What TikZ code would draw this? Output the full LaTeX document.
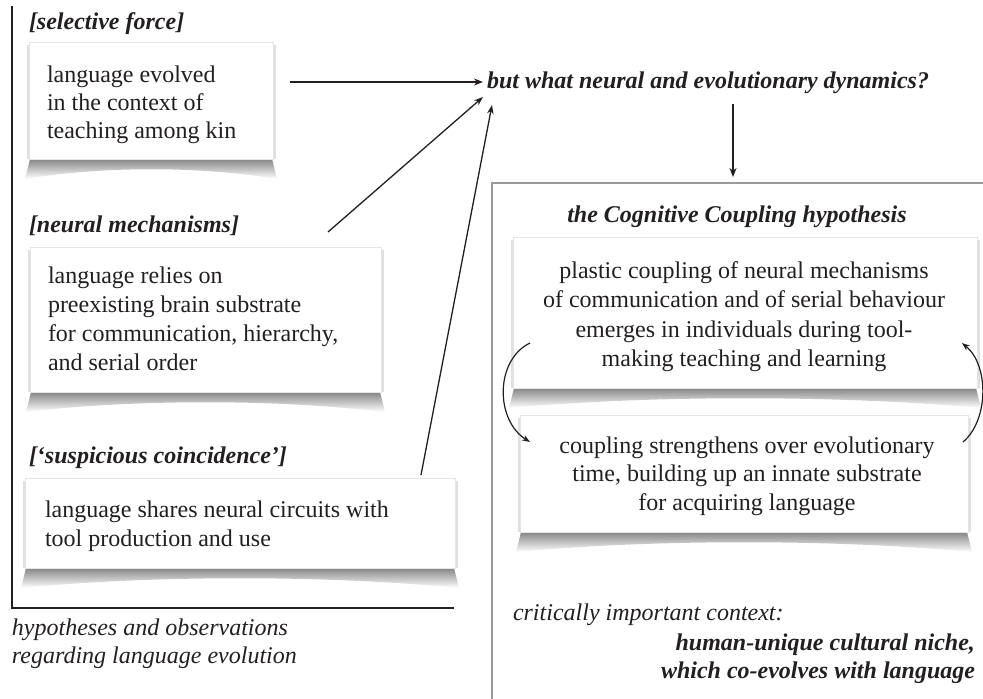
\documentclass[tikz,border=0pt]{standalone}
\usepackage{fontspec}
\setmainfont{Liberation Serif}
\usetikzlibrary{arrows.meta}
\definecolor{ink}{HTML}{231F20}
\definecolor{framegray}{HTML}{9A9A9A}
\newcommand\Lft[1]{\vtop{\halign{##\hfil\cr#1\crcr}}}
\newcommand\Ctr[1]{\vtop{\halign{\hfil##\hfil\cr#1\crcr}}}
\newcommand\Rgt[1]{\vtop{\halign{\hfil##\cr#1\crcr}}}
% #1 name, #2 x1, #3 y1, #4 x2, #5 y2
\newcommand\Card[5]{%
  \shade[top color=black!48, middle color=black!22, bottom color=white]
    ({#2+1},#5) -- ({#2-4},{#5+20})
    .. controls ({#2+0.3*(#4-#2)},{#5+7}) and ({#4-0.3*(#4-#2)},{#5+7}) ..
    ({#4+4},{#5+20}) -- ({#4-1},#5) -- cycle;
  \fill[black!12] ({#2-2.5},{#3+3}) rectangle ({#4+2.5},#5);
  \node[card, minimum width={(#4)-(#2)}, minimum height={(#5)-(#3)}, anchor=north west] (#1) at (#2,#3) {};
}
\begin{document}
\begin{tikzpicture}[x=1pt,y=-1pt,
  every node/.style={inner sep=0pt, outer sep=0pt, text=ink},
  body/.style={font=\fontsize{24}{29}\selectfont},
  hd/.style={font=\fontsize{24}{29}\selectfont\bfseries\itshape},
  it/.style={font=\fontsize{24}{28}\selectfont\itshape},
  card/.style={draw=black!10, line width=0.5pt, fill=white},
  thickarrow/.style={draw=ink, line width=2.4pt, -{Stealth[length=9pt,width=7pt]}},
  thinarrow/.style={draw=ink, line width=1.3pt, -{Stealth[length=9pt,width=6.5pt]}},
  curvearrow/.style={draw=ink, line width=1.2pt, -{Stealth[length=8pt,width=6pt]}},
  bracket/.style={draw=ink, line width=2pt},
  frame/.style={draw=framegray, line width=1.6pt}
]
\useasboundingbox (0,0) rectangle (983,699);

% left bracket
\coordinate (bt) at (11.5,6);
\coordinate (bc) at (11.5,608);
\coordinate (br) at (454,608);
\draw[bracket] (bt) -- (bc) -- (br);

% left cards
\node[hd, anchor=base west] (l1) at (29,29) {[selective force]};
\Card{c1}{29}{42}{273}{159}
\node[body, anchor=base west] (t1) at (47,82) {\baselineskip=28pt\Lft{language evolved\cr in the context of\cr teaching among kin}};

\node[hd, anchor=base west] (l2) at (29,232) {[neural mechanisms]};
\Card{c2}{30}{247}{381}{392}
\node[body, anchor=base west] (t2) at (48,283) {\Lft{language relies on\cr preexisting brain substrate\cr for communication, hierarchy,\cr and serial order}};

\node[hd, anchor=base west] (l3) at (29,463) {[‘suspicious coincidence’]};
\Card{c3}{25}{478}{455}{568}
\node[body, anchor=base west] (t3) at (45,517) {\Lft{language shares neural circuits with\cr tool production and use}};

\node[it, anchor=base west] (cap) at (12,635) {\Lft{hypotheses and observations\cr regarding language evolution}};

% question
\node[hd, anchor=base west] (q) at (487,88) {but what neural and evolutionary dynamics?};
\coordinate (a1s) at (290,82);
\coordinate (q1) at (483,82);
\coordinate (a2s) at (328,232);
\coordinate (q2) at (483,97);
\coordinate (a3s) at (421,475);
\coordinate (q3) at (492,105);
\draw[thickarrow] (a1s) -- (q1);
\draw[thinarrow] (a2s) -- (q2);
\draw[thinarrow] (a3s) -- (q3);

\coordinate (d1) at (733,104);
\coordinate (d2) at (733,177);
\draw[thickarrow] (d1) -- (d2);

% right frame
\coordinate (fr) at (984,183);
\coordinate (fl) at (492,183);
\coordinate (fb) at (492,700);
\draw[frame] (fr) -- (fl) -- (fb);

\node[hd, anchor=base] (h) at (737,222) {the Cognitive Coupling hypothesis};

\Card{cA}{513}{237}{977}{388}
\node[body, anchor=base] (tA) at (744,278) {\baselineskip=29.6pt\Ctr{plastic coupling of neural mechanisms\cr of communication and of serial behaviour\cr emerges in individuals during tool-\cr making teaching and learning}};

\Card{cB}{520}{415}{968}{532}
\node[body, anchor=base] (tB) at (747,453) {\baselineskip=28.6pt\Ctr{coupling strengthens over evolutionary\cr time, building up an innate substrate\cr for acquiring language}};

% cycle arrows
\coordinate (la) at (530,343);
\coordinate (lb) at (530,442);
\coordinate (ra) at (963,442);
\coordinate (rb) at (962,343);
\draw[curvearrow] (la) .. controls (495,360) and (495,420) .. (lb);
\draw[curvearrow] (ra) .. controls (989,420) and (989,365) .. (rb);

\node[it, anchor=base west] (ctx) at (513,620) {critically important context:};
\node[hd, anchor=base east] (niche) at (975,650) {\baselineskip=28pt\Rgt{human-unique cultural niche,\cr which co-evolves with language}};
\end{tikzpicture}
\end{document}
